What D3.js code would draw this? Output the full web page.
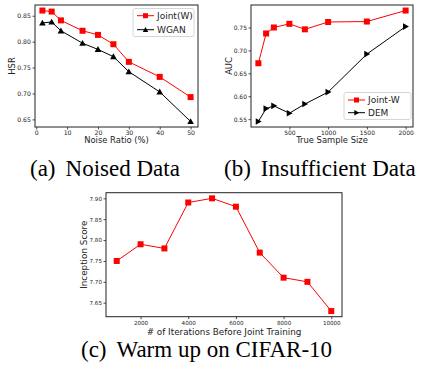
<!DOCTYPE html>
<html>
<head>
<meta charset="utf-8">
<script src="https://cdn.jsdelivr.net/npm/d3@7"></script>
<style>
  body { margin: 0; background: #fff; }
  svg { display: block; }
</style>
</head>
<body>
<div id="chart"></div>
<script>
// ---------------- data ----------------
// (a) noised data
const noiseRatio = [2, 5, 8, 15, 20, 25, 30, 40, 50];
const hsrJoint = [0.860, 0.858, 0.841, 0.821, 0.813, 0.795, 0.761, 0.732, 0.693];
const hsrWgan = [0.836, 0.838, 0.821, 0.797, 0.785, 0.771, 0.742, 0.703, 0.646];
const noiseTicksX = [0, 10, 20, 30, 40, 50];
const hsrTicksY = [0.65, 0.70, 0.75, 0.80, 0.85];

// (b) insufficient data
const sampleSize = [100, 200, 300, 500, 700, 1000, 1500, 2000];
const aucJoint = [0.672, 0.737, 0.750, 0.758, 0.746, 0.762, 0.763, 0.787];
const aucDem = [0.545, 0.573, 0.579, 0.563, 0.583, 0.609, 0.692, 0.752];
const sampleTicksX = [500, 1000, 1500, 2000];
const aucTicksY = [0.55, 0.60, 0.65, 0.70, 0.75];

// (c) warm up on CIFAR-10
const warmIters = [1000, 2000, 3000, 4000, 5000, 6000, 7000, 8000, 9000, 10000];
const inception = [7.75, 7.79, 7.78, 7.89, 7.90, 7.88, 7.77, 7.71, 7.70, 7.63];
const iterTicksX = [2000, 4000, 6000, 8000, 10000];
const inceptionTicksY = [7.65, 7.70, 7.75, 7.80, 7.85, 7.90];

// ---------------- svg ----------------
const width = 422;
const height = 379;
const svg = d3.select("#chart").append("svg")
  .attr("width", width)
  .attr("height", height);

const sans = "'DejaVu Sans', sans-serif";
const serif = "'Liberation Serif', 'Times New Roman', serif";

// matplotlib style 5% padding
function padded(vals) {
  const [lo, hi] = d3.extent(vals);
  const m = (hi - lo) * 0.05;
  return [lo - m, hi + m];
}

function marker(g, type, x, y, color, s) {
  if (type === "square") {
    g.append("rect")
      .attr("x", x - s / 2).attr("y", y - s / 2)
      .attr("width", s).attr("height", s)
      .attr("fill", color);
  } else if (type === "up") {
    const h = s * 0.55;
    g.append("path")
      .attr("d", `M${x},${y - h}L${x + h},${y + h * 0.8}L${x - h},${y + h * 0.8}Z`)
      .attr("fill", color);
  } else if (type === "right") {
    const h = s * 0.55;
    g.append("path")
      .attr("d", `M${x + h},${y}L${x - h * 0.8},${y - h}L${x - h * 0.8},${y + h}Z`)
      .attr("fill", color);
  }
}

function panel(cfg) {
  const x = d3.scaleLinear().domain(padded(cfg.xs)).range([cfg.box.l, cfg.box.r]);
  const allY = cfg.series.flatMap((s) => s.values);
  const y = d3.scaleLinear().domain(padded(allY)).range([cfg.box.b, cfg.box.t]);
  const g = svg.append("g");

  // series
  cfg.series.forEach((s) => {
    const pts = cfg.xs.map((v, i) => [x(v), y(s.values[i])]);
    g.append("path")
      .attr("d", d3.line()(pts))
      .attr("fill", "none")
      .attr("stroke", s.color)
      .attr("stroke-width", 1);
    pts.forEach((p) => marker(g, s.marker, p[0], p[1], s.color, cfg.ms));
  });

  // axes
  const xAxis = d3.axisBottom(x).tickValues(cfg.xTicks).tickFormat(cfg.xFmt)
    .tickSizeInner(2.5).tickSizeOuter(0).tickPadding(1.5);
  const yAxis = d3.axisLeft(y).tickValues(cfg.yTicks).tickFormat(cfg.yFmt)
    .tickSizeInner(2.5).tickSizeOuter(0).tickPadding(1.5);
  const gx = g.append("g").attr("transform", `translate(0,${cfg.box.b})`).call(xAxis);
  const gy = g.append("g").attr("transform", `translate(${cfg.box.l},0)`).call(yAxis);
  [gx, gy].forEach((a) => {
    a.select(".domain").remove();
    a.selectAll("line").attr("stroke", "#222").attr("stroke-width", 0.8);
    a.selectAll("text").attr("fill", "#222")
      .style("font-family", sans).style("font-size", cfg.tickFs + "px");
  });

  // frame
  g.append("rect")
    .attr("x", cfg.box.l).attr("y", cfg.box.t)
    .attr("width", cfg.box.r - cfg.box.l).attr("height", cfg.box.b - cfg.box.t)
    .attr("fill", "none").attr("stroke", "#222").attr("stroke-width", 1);

  // axis labels
  g.append("text")
    .attr("x", (cfg.box.l + cfg.box.r) / 2).attr("y", cfg.xLabelY)
    .attr("text-anchor", "middle")
    .style("font-family", sans).style("font-size", cfg.labelFs + "px").attr("fill", "#222")
    .text(cfg.xLabel);
  g.append("text")
    .attr("transform", `translate(${cfg.yLabelX},${(cfg.box.t + cfg.box.b) / 2}) rotate(-90)`)
    .attr("text-anchor", "middle")
    .attr("dominant-baseline", "central")
    .style("font-family", sans).style("font-size", cfg.labelFs + "px").attr("fill", "#222")
    .text(cfg.yLabel);

  // legend
  if (cfg.legend) {
    const L = cfg.legend;
    const lg = g.append("g");
    lg.append("rect")
      .attr("x", L.x).attr("y", L.y).attr("width", L.w).attr("height", L.h)
      .attr("rx", 2).attr("fill", "#fff").attr("fill-opacity", 0.85)
      .attr("stroke", "#ccc").attr("stroke-width", 0.8);
    cfg.series.forEach((s, i) => {
      const yy = L.y + L.row0 + i * L.dy;
      lg.append("line")
        .attr("x1", L.x + 4).attr("x2", L.x + 21)
        .attr("y1", yy).attr("y2", yy)
        .attr("stroke", s.color).attr("stroke-width", 1);
      marker(lg, s.marker, L.x + 12.5, yy, s.color, 5);
      lg.append("text")
        .attr("x", L.x + 24).attr("y", yy)
        .attr("dominant-baseline", "central")
        .style("font-family", sans).style("font-size", L.fs + "px").attr("fill", "#222")
        .text(s.name);
    });
  }
}

// (a)
panel({
  box: { l: 35, r: 198, t: 5, b: 127 },
  xs: noiseRatio,
  series: [
    { name: "Joint(W)", values: hsrJoint, color: "#ff0000", marker: "square" },
    { name: "WGAN", values: hsrWgan, color: "#000", marker: "up" }
  ],
  xTicks: noiseTicksX, yTicks: hsrTicksY,
  xFmt: d3.format("d"), yFmt: d3.format(".2f"),
  tickFs: 6.2, labelFs: 8.4, ms: 6,
  xLabel: "Noise Ratio (%)", xLabelY: 143,
  yLabel: "HSR", yLabelX: 12,
  legend: { x: 133, y: 8.5, w: 61, h: 28, row0: 7.2, dy: 14, fs: 9 }
});

// (b)
panel({
  box: { l: 251, r: 413, t: 5, b: 127 },
  xs: sampleSize,
  series: [
    { name: "Joint-W", values: aucJoint, color: "#ff0000", marker: "square" },
    { name: "DEM", values: aucDem, color: "#000", marker: "right" }
  ],
  xTicks: sampleTicksX, yTicks: aucTicksY,
  xFmt: d3.format("d"), yFmt: d3.format(".2f"),
  tickFs: 6, labelFs: 8.4, ms: 6,
  xLabel: "True Sample Size", xLabelY: 143,
  yLabel: "AUC", yLabelX: 229,
  legend: { x: 344, y: 92.5, w: 67, h: 27, row0: 7.5, dy: 12.7, fs: 9 }
});

// (c)
panel({
  box: { l: 106, r: 342, t: 192.7, b: 316.7 },
  xs: warmIters,
  series: [
    { name: "Joint", values: inception, color: "#ff0000", marker: "square" }
  ],
  xTicks: iterTicksX, yTicks: inceptionTicksY,
  xFmt: d3.format("d"), yFmt: d3.format(".2f"),
  tickFs: 5.6, labelFs: 8.8, ms: 6,
  xLabel: "# of Iterations Before Joint Training", xLabelY: 335,
  yLabel: "Inception Score", yLabelX: 84
});

// captions
const captions = [
  { tag: "(a)", text: "Noised Data", x: 30, y: 176 },
  { tag: "(b)", text: "Insufficient Data", x: 224, y: 176 },
  { tag: "(c)", text: "Warm up on CIFAR-10", x: 81, y: 357 }
];
captions.forEach((c) => {
  const t = svg.append("text")
    .attr("x", c.x).attr("y", c.y)
    .style("font-family", serif).style("font-size", "23px").attr("fill", "#000");
  t.append("tspan").text(c.tag);
  t.append("tspan").attr("dx", 10).text(c.text);
});
</script>
</body>
</html>
